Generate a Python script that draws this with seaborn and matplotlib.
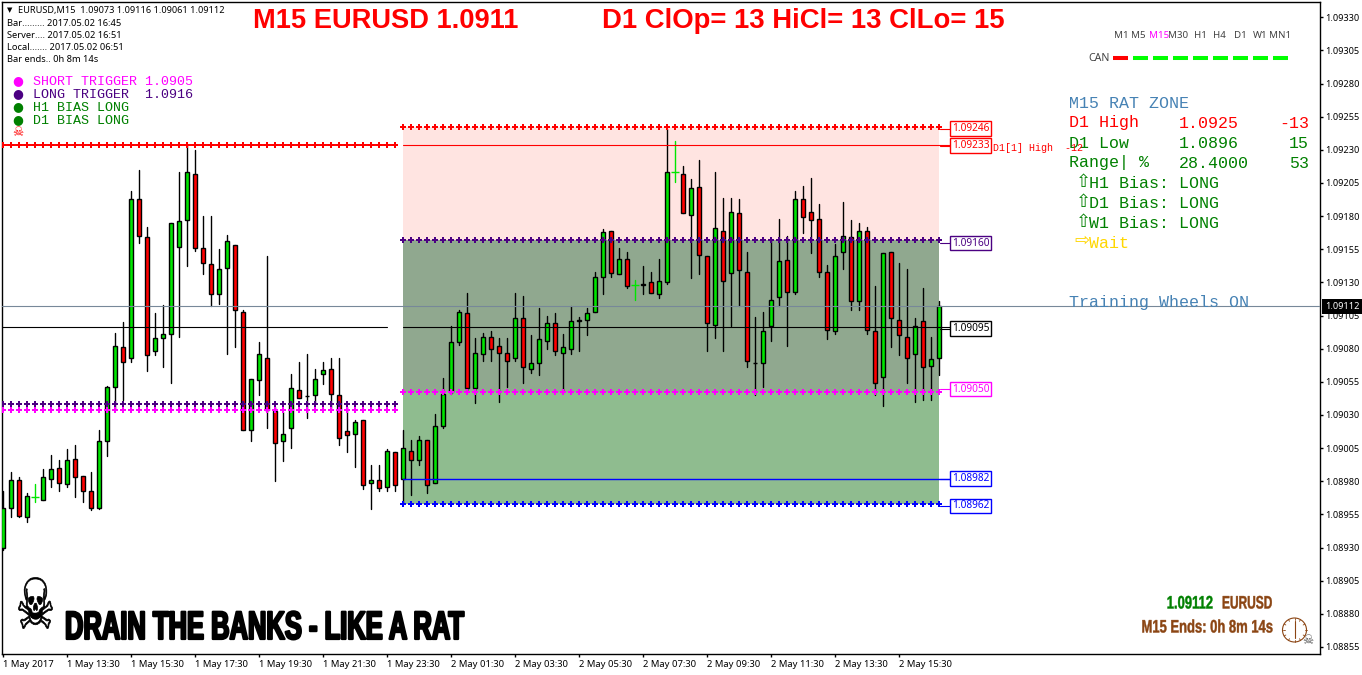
import numpy as np
import pandas as pd
import seaborn as sns
import matplotlib
matplotlib.use('Agg')
import matplotlib.pyplot as plt
import matplotlib.patheffects as pe
from matplotlib.transforms import Affine2D

# candles in points (1 point = 0.00001)
opens = [108930,108960,108981,108953,108968,108966,108982,108990,108978,108997,108984,108973,108960,109010,109051,109081,109073,109193,109164,109078,
         109088,109091,109157,109177,109212,109156,109144,109121,109141,109158,109108,109019,109056,109073,109033,109010,109020,109049,109044,109045,
         109061,109065,109045,109018,109016,109026,108979,108981,108976,109002,108982,109003,108996,109011,108979,109022,109047,109085,109107,109050,
         109076,109089,109082,109077,109073,109103,109065,109069,109086,109099,109077,109080,109102,109102,109108,109134,109169,109136,109148,109128,
         109128,109130,109121,109130,109213,109212,109181,109202,109150,109098,109169,109137,109182,109138,109069,109069,109097,109119,109147,109123,
         109193,109183,109178,109138,109093,109153,109164,109116,109169,109093,109059,109153,109102,109089,109076,109101,109067,109073]
highs = [108973,108987,108983,108971,108978,108989,109000,108996,109004,109007,108984,108987,109019,109052,109092,109100,109199,109215,109172,109107,
         109113,109175,109213,109234,109230,109180,109180,109155,109166,109158,109109,109057,109085,109150,109036,109032,109061,109070,109076,109065,
         109070,109073,109073,109036,109026,109026,108992,108992,109004,109002,109019,109011,109014,109011,109031,109058,109097,109109,109122,109088,
         109092,109093,109088,109088,109122,109120,109090,109111,109105,109107,109091,109112,109104,109111,109138,109170,109169,109156,109153,109132,
         109142,109138,109148,109246,109237,109218,109208,109222,109150,109213,109194,109194,109193,109153,109104,109108,109162,109178,109165,109199,
         109203,109209,109189,109143,109159,109191,109177,109175,109172,109127,109152,109153,109145,109140,109103,109126,109089,109116]
lows = [108928,108953,108953,108949,108964,108966,108976,108973,108976,108968,108964,108958,108959,108999,109034,109041,109070,109160,109063,109075,
        109066,109054,109089,109142,109154,109136,109112,109114,109076,109081,109019,109010,109045,109020,108980,108995,109005,109043,109028,109039,
        109053,109035,109007,109002,108991,108974,108959,108973,108973,108973,108963,108970,108992,108971,108979,109020,109046,109083,109047,109039,
        109071,109071,109040,109051,109071,109054,109062,109060,109080,109075,109048,109076,109078,109090,109108,109121,109134,109136,109126,109117,
        109121,109122,109118,109129,109206,109182,109133,109136,109078,109088,109078,109097,109112,109066,109045,109051,109086,109112,109082,109121,
        109167,109152,109134,109087,109091,109140,109109,109109,109091,109045,109037,109081,109075,109054,109040,109041,109041,109060]
closes = [108960,108981,108954,108969,108968,108983,108989,108979,108996,108983,108973,108960,109010,109051,109082,109070,109193,109165,109075,109088,
          109091,109175,109176,109213,109156,109145,109121,109140,109161,109109,109019,109057,109076,109034,109009,109016,109050,109043,109044,109057,
          109064,109046,109013,109015,109025,108977,108981,108975,109003,108977,109005,108996,109011,108977,109022,109046,109085,109108,109050,109077,
          109089,109080,109077,109071,109103,109066,109069,109087,109099,109078,109081,109101,109101,109107,109134,109168,109137,109148,109127,109128,
          109129,109122,109131,109213,109213,109182,109201,109151,109099,109171,109131,109183,109139,109071,109069,109093,109117,109146,109123,109193,
          109179,109177,109138,109094,109150,109165,109116,109169,109094,109054,109152,109103,109090,109073,109097,109066,109072,109112]
green_dojis = [4, 79, 84]

# indicator levels (points)
rat_high = 109247
long_trigger = 109162
short_trigger = 109047
rat_low = 108963
left_high = 109234
left_long = 109038
left_short = 109034
day_pivot = 109096
day_low_line = 108982
bid = 109112

y_ticks = [1.08855,1.08880,1.08905,1.08930,1.08955,1.08980,1.09005,1.09030,1.09055,1.09080,
           1.09105,1.09130,1.09155,1.09180,1.09205,1.09230,1.09255,1.09280,1.09305,1.09330]
x_labels = ['1 May 2017','1 May 13:30','1 May 15:30','1 May 17:30','1 May 19:30','1 May 21:30','1 May 23:30',
            '2 May 01:30','2 May 03:30','2 May 05:30','2 May 07:30','2 May 09:30','2 May 11:30','2 May 13:30','2 May 15:30']

sns.set_style('white')
plt.rcParams['font.family'] = ['Noto Sans', 'DejaVu Sans']

W, H = 1362, 675
fig = plt.figure(figsize=(W / 100, H / 100), dpi=100)
ax = fig.add_axes([2 / W, (H - 654) / H, 1317.7 / W, 652 / H])

df = pd.DataFrame({'bar': range(len(opens)), 'open': opens, 'high': highs, 'low': lows, 'close': closes})
for c in ['open', 'high', 'low', 'close']:
    df[c] = df[c] / 1e5
left = df[df.bar < 50].bar.values
right = df[df.bar >= 50].bar.values

# zones
zones = [(rat_high, long_trigger, '#ffe4e1'), (long_trigger, short_trigger, '#90a88f'), (short_trigger, rat_low, '#8fbc8f')]
for top, bottom, color in zones:
    ax.fill_between([right[0], right[-1]], bottom / 1e5, top / 1e5, color=color, lw=0, zorder=1)

# wicks
normal = df[~df.bar.isin(green_dojis)]
wicks = normal.melt(id_vars='bar', value_vars=['high', 'low'], value_name='price')
sns.lineplot(data=wicks, x='bar', y='price', units='bar', estimator=None, color='black', lw=1, ax=ax, legend=False, zorder=2)
thin = df[df.bar.isin(green_dojis)]
wicks = thin.melt(id_vars='bar', value_vars=['high', 'low'], value_name='price')
sns.lineplot(data=wicks, x='bar', y='price', units='bar', estimator=None, color='#00e600', lw=1, ax=ax, legend=False, zorder=2)
sns.scatterplot(data=thin, x='bar', y='open', marker='_', color='#00e600', s=26, linewidth=1, ax=ax, legend=False, zorder=3)

# bodies
normal = normal.assign(bottom=normal[['open', 'close']].min(axis=1), height=(normal.close - normal.open).abs())
for up, color in [(True, '#00e600'), (False, '#ff0000')]:
    sub = normal[(normal.close >= normal.open) == up]
    sns.barplot(data=sub, x='bar', y='height', color=color, saturation=1, native_scale=True, bottom=sub['bottom'].values,
                width=0.46, edgecolor='black', linewidth=1, errorbar=None, ax=ax, zorder=3)

# dotted levels
for bars, level, color in [(left, left_long, '#4b0082'), (left, left_short, '#ff00ff'), (left, left_high, '#ff0000'),
                           (right, rat_high, '#ff0000'), (right, long_trigger, '#4b0082'),
                           (right, short_trigger, '#ff00ff'), (right, rat_low, '#0000ff')]:
    sns.scatterplot(x=bars, y=[level / 1e5] * len(bars), marker='P', color=color, s=14, linewidth=0, ax=ax, legend=False, zorder=5)

# horizontal lines
ax.plot([left[0] - 1, left[-1] + 0.2], [left_high / 1e5] * 2, color='#ff0000', lw=1.4, zorder=4)
ax.plot([right[0], right[-1] + 1.4], [left_high / 1e5] * 2, color='#ff0000', lw=0.8, zorder=4)
ax.plot([left[0] - 1, left[-1] - 1], [day_pivot / 1e5] * 2, color='black', lw=0.8, zorder=4)
ax.plot([right[0], right[-1] + 1.4], [day_pivot / 1e5] * 2, color='black', lw=0.8, zorder=4)
ax.plot([right[0], right[-1] + 1.4], [day_low_line / 1e5] * 2, color='#0000ff', lw=1, zorder=4)
ax.axhline(bid / 1e5, color='#778899', lw=0.8, zorder=4)

ax.set_xlim(-0.166, 164.55)
ax.set_ylim(1.088497, 1.093415)
ax.set_xlabel('')
ax.set_ylabel('')
ax.yaxis.tick_right()
ax.set_yticks(y_ticks)
ax.set_yticklabels(['%.5f' % v for v in y_ticks], fontsize=6.6, color='black')
ax.set_xticks(range(0, 8 * len(x_labels), 8))
ax.set_xticklabels(x_labels, fontsize=6.8, ha='left', color='black')
ax.tick_params(axis='both', length=2, width=1, color='black', pad=2, bottom=True, right=True, left=False)
for s in ax.spines.values():
    s.set_visible(True)
    s.set_color('black')
    s.set_linewidth(1)

# overlay in pixel coordinates for the text panels
ov = fig.add_axes([0, 0, 1, 1], zorder=10)
ov.set_xlim(0, W)
ov.set_ylim(H, 0)
ov.axis('off')

def put(x, y, s, color='black', size=7, ha='left', **kw):
    return ov.text(x, y, s, color=color, fontsize=size, ha=ha, va='center', **kw)

# condensed heavy look, no Impact here: rescale the glyphs around x0, y0
class Squeeze(pe.AbstractPathEffect):
    def __init__(self, x0, sx, stroke, y0=0, sy=1):
        super().__init__()
        self.x0, self.sx, self.stroke, self.y0, self.sy = x0, sx, stroke, y0, sy

    def draw_path(self, renderer, gc, tpath, affine, rgbFace=None):
        a = affine + Affine2D().translate(-self.x0, -self.y0).scale(self.sx, self.sy).translate(self.x0, self.y0)
        gc0 = renderer.new_gc()
        gc0.copy_properties(gc)
        gc0.set_linewidth(self.stroke)
        gc0.set_foreground(rgbFace)
        renderer.draw_path(gc0, tpath, a, rgbFace)
        gc0.restore()

def impact(x, y, s, color, size, sx, ha='left', stroke=0.8):
    t = put(x, y, s, color, size, ha=ha, family=sans, weight='bold')
    t.set_path_effects([Squeeze(x, sx, stroke)])

sans = 'Liberation Sans'
mono = 'Liberation Mono'

put(253, 21, 'M15 EURUSD 1.0911', '#ff0000', 19.6, family=sans, weight='bold')
put(602, 21, 'D1 ClOp= 13 HiCl= 13 ClLo= 15', '#ff0000', 19.8, family=sans, weight='bold')

# chart info
put(7, 10.5, '▼', 'black', 5, family='DejaVu Sans')
put(18, 10.5, 'EURUSD,M15  1.09073 1.09116 1.09061 1.09112', size=6.6)
for y, s in [(23, 'Bar......... 2017.05.02 16:45'), (35, 'Server.... 2017.05.02 16:51'),
             (47, 'Local....... 2017.05.02 06:51'), (59, 'Bar ends.. 0h 8m 14s')]:
    put(7, y, s, size=6.7)

for y, s, color in [(81, 'SHORT TRIGGER 1.0905', '#ff00ff'), (94, 'LONG TRIGGER  1.0916', '#4b0082'),
                    (107, 'H1 BIAS LONG', '#008000'), (120, 'D1 BIAS LONG', '#008000')]:
    put(18, y, '●', color, 9, ha='center', family='DejaVu Sans')
    put(33, y + 1, s, color, 9.6, family=mono)
put(18, 132, '☠', '#ff0000', 9, ha='center', family='DejaVu Sans')

# timeframe panel
for x, s, color in [(1121.7, 'M1', '#444444'), (1138, 'M5', '#444444'), (1159, 'M15', '#ff00ff'), (1178, 'M30', '#444444'),
                    (1200.7, 'H1', '#444444'), (1219, 'H4', '#444444'), (1240.7, 'D1', '#444444'), (1260, 'W1', '#444444'), (1280, 'MN1', '#444444')]:
    put(x, 36, s, color, 7, ha='center')
put(1099, 58.5, 'CAN', '#444444', 7.6, ha='center')
for i in range(9):
    x = 1112.7 + 20 * i
    ov.plot([x, x + 15], [57.7, 57.7], color='#ff0000' if i == 0 else '#00ff00', lw=2.9, solid_capstyle='butt')

# zone panel
blue = '#4682b4'
green = '#008000'
put(1069, 103, 'M15 RAT ZONE', blue, 12, family=mono)
for y, a, b, c, color in [(123, 'D1 High', '1.0925', '-13', '#ff0000'), (143, 'D1 Low', '1.0896', '15', green),
                          (163, 'Range| %', '28.4000', '53', green)]:
    put(1069, y, a, color, 12, family=mono)
    put(1179, y, b, color, 12, family=mono)
    put(1309, y, c, color, 12, ha='right', family=mono)
for y, s in [(183, 'H1 Bias: LONG'), (203, 'D1 Bias: LONG'), (223, 'W1 Bias: LONG')]:
    put(1083, y - 1, '⇧', green, 13, ha='center', family='DejaVu Sans')
    put(1089, y, s, green, 12, family=mono)
put(1082, 241, '⇨', '#ffd700', 13, ha='center', family='DejaVu Sans')
put(1089, 243, 'Wait', '#ffd700', 12, family=mono)
put(1069, 303, 'Training Wheels ON', blue, 12, family=mono)

# level labels
for y, s, color in [(128.5, '1.09246', '#ff0000'), (145.5, '1.09233', '#ff0000'), (243, '1.09160', '#4b0082'),
                    (328.5, '1.09095', 'black'), (389, '1.09050', '#ff00ff'), (478.5, '1.08982', '#0000ff'), (506, '1.08962', '#0000ff')]:
    ov.plot([940, 951], [y, y], color=color, lw=0.8)
    put(952, y, s, color, 7.3, bbox=dict(boxstyle='square,pad=0.16', fc='white', ec=color, lw=1))
put(993, 148, 'D1[1] High  -12', '#ff0000', 7.2, family=mono)

# bid box
put(1325, 306.5, '1.09112', 'white', 6.6, bbox=dict(boxstyle='square,pad=0.35', fc='black', ec='black', lw=0))

# bottom banner
t = put(35.5, 609, '☠', 'black', 36, ha='center', family='DejaVu Sans')
t.set_path_effects([Squeeze(35.5, 0.88, 0.5, H - 609, 1.4)])
impact(65, 628, 'DRAIN THE BANKS - LIKE A RAT', 'black', 28.5, 0.645, stroke=1.6)

brown = '#8b4513'
impact(1213, 604, '1.09112', '#008000', 13, 0.72, ha='right', stroke=0.3)
impact(1222, 604, 'EURUSD', brown, 13, 0.66, stroke=0.3)
impact(1273, 628, 'M15 Ends: 0h 8m 14s', brown, 13, 0.72, ha='right', stroke=0.3)
ov.add_patch(plt.Circle((1294.5, 630), 12, fc='none', ec=brown, lw=0.8))
for a in np.arange(0, 360, 30):
    ca, sa = np.cos(np.radians(a)), np.sin(np.radians(a))
    ov.plot([1294.5 + 10 * ca, 1294.5 + 12 * ca], [630 + 10 * sa, 630 + 12 * sa], color=brown, lw=0.6)
ov.plot([1294.5, 1294.5], [621, 638], color=brown, lw=0.8)
put(1308, 640, '☠', '#555555', 9, ha='center', family='DejaVu Sans')

fig.savefig('out.png', dpi=100)
